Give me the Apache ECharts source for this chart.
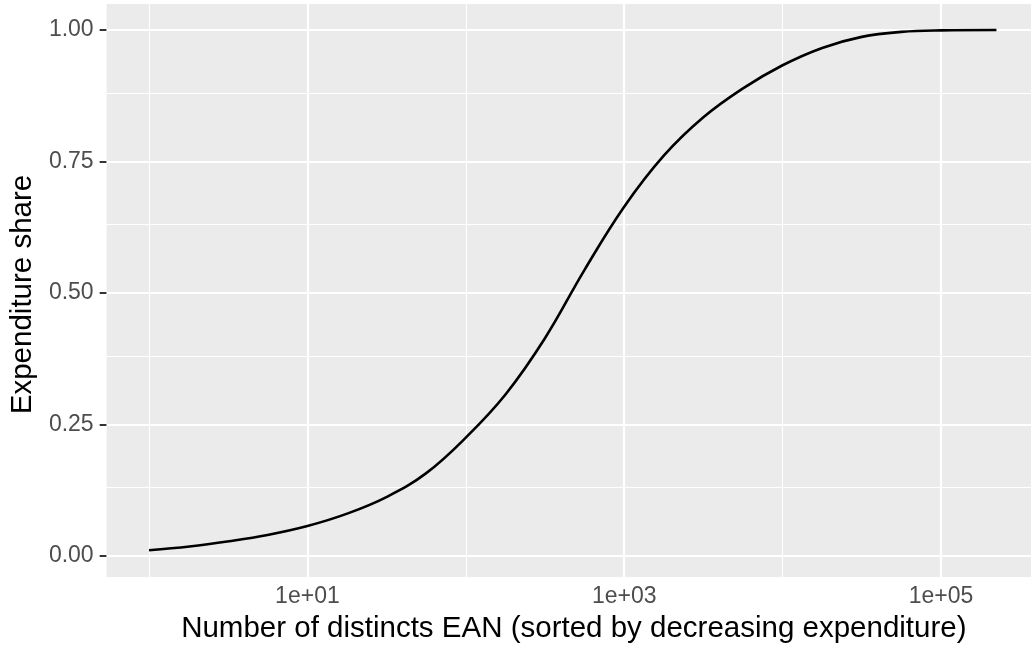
<!DOCTYPE html>
<html>
<head>
<meta charset="utf-8">
<script src="https://cdn.jsdelivr.net/npm/echarts@6/dist/echarts.min.js"></script>
<style>
  html, body { margin: 0; padding: 0; background: #fff; }
  #chart { width: 1031px; height: 649px; }
</style>
</head>
<body>
<div id="chart"></div>
<script>
// number of distinct EAN (x, log scale) and cumulated expenditure share (y)
const eanCount = [1, 1.8, 3.2, 5.6, 10, 18, 32, 56, 100, 178, 316, 562,
  1000, 1778, 3162, 5623, 10000, 17783, 31623, 56234, 100000, 224000];
const expShare = [0.011, 0.018, 0.028, 0.040, 0.057, 0.081, 0.113, 0.157, 0.225, 0.307, 0.414, 0.544,
  0.664, 0.761, 0.834, 0.889, 0.933, 0.966, 0.987, 0.9965, 0.9993, 1.0];

const xTickValues = [10, 1000, 100000];
const xTickLabels = ['1e+01', '1e+03', '1e+05'];
const xMinorGrid = [1, 100, 10000];
const yTickValues = [0, 0.25, 0.5, 0.75, 1];
const yTickLabels = ['0.00', '0.25', '0.50', '0.75', '1.00'];
const yMinorGrid = [0.125, 0.375, 0.625, 0.875];

const font = 'Liberation Sans, Arial, Helvetica, sans-serif';
const chart = echarts.init(document.getElementById('chart'));

function gridLine(axis, v, w) {
  return { [axis]: v, lineStyle: { color: '#ffffff', width: w, type: 'solid' } };
}

const gridLines = []
  .concat(xMinorGrid.map(v => gridLine('xAxis', v, 1.1)))
  .concat(yMinorGrid.map(v => gridLine('yAxis', v, 1.1)))
  .concat(xTickValues.map(v => gridLine('xAxis', v, 2.2)))
  .concat(yTickValues.map(v => gridLine('yAxis', v, 2.2)));

const option = {
  animation: false,
  grid: {
    left: 106, right: 0, top: 4, bottom: 72,
    show: true, backgroundColor: '#EBEBEB', borderWidth: 0
  },
  xAxis: {
    type: 'log',
    logBase: 10,
    min: Math.pow(10, -0.2675),
    max: Math.pow(10, 5.5685),
    name: 'Number of distincts EAN (sorted by decreasing expenditure)',
    nameLocation: 'middle',
    nameGap: 37,
    nameTextStyle: { color: '#000', fontSize: 29.5, fontFamily: font, padding: [0, 0, 0, 10] },
    axisLine: { show: false },
    axisTick: { show: true, length: 7, customValues: xTickValues, lineStyle: { color: '#333333', width: 2 } },
    axisLabel: {
      customValues: xTickValues,
      color: '#4D4D4D', fontSize: 23, fontFamily: font, margin: 8,
      formatter: function (v) {
        const i = xTickValues.indexOf(Math.round(v));
        return i >= 0 ? xTickLabels[i] : '';
      }
    },
    splitLine: { show: false },
    minorSplitLine: { show: false }
  },
  yAxis: {
    type: 'value',
    min: -0.04,
    max: 1.0495,
    name: 'Expenditure share',
    nameLocation: 'middle',
    nameGap: 67,
    nameTextStyle: { color: '#000', fontSize: 29.5, fontFamily: font, padding: [0, 8, 0, 0] },
    axisLine: { show: false },
    axisTick: { show: true, length: 7, customValues: yTickValues, lineStyle: { color: '#333333', width: 2 } },
    axisLabel: {
      customValues: yTickValues,
      color: '#4D4D4D', fontSize: 23, fontFamily: font, margin: 13,
      formatter: function (v) {
        const i = yTickValues.findIndex(t => Math.abs(t - v) < 1e-9);
        return i >= 0 ? yTickLabels[i] : '';
      }
    },
    splitLine: { show: false }
  },
  series: [
    {
      type: 'line',
      data: [],
      z: 1,
      silent: true,
      markLine: {
        z: 1,
        silent: true,
        symbol: ['none', 'none'],
        label: { show: false },
        animation: false,
        data: gridLines
      }
    },
    {
      type: 'line',
      z: 10,
      data: eanCount.map((n, i) => [n, expShare[i]]),
      smooth: 0.4,
      showSymbol: false,
      lineStyle: { color: '#000000', width: 2.6 }
    }
  ]
};

chart.setOption(option);
</script>
</body>
</html>
